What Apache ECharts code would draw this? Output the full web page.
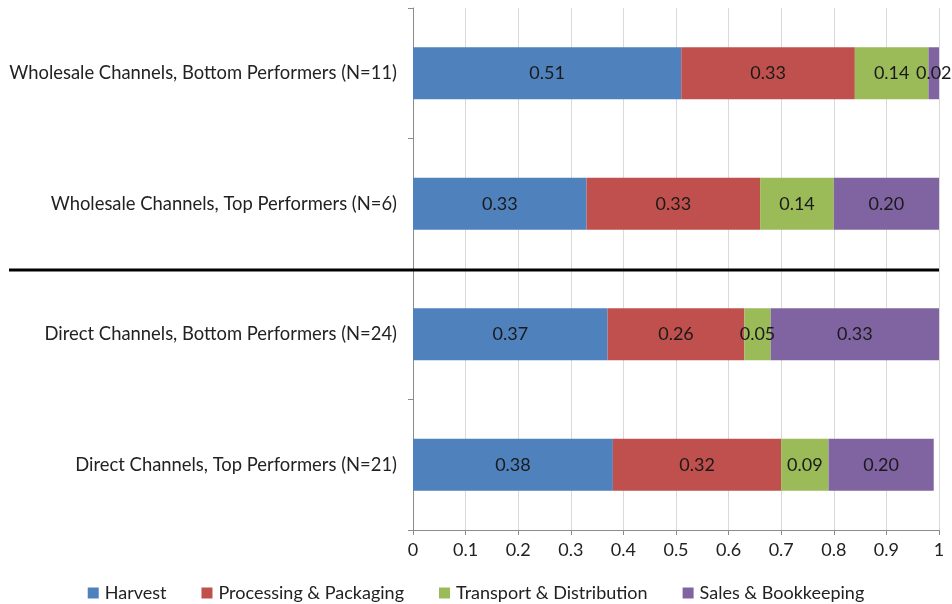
<!DOCTYPE html>
<html>
<head>
<meta charset="utf-8">
<script src="https://cdn.jsdelivr.net/npm/echarts@6/dist/echarts.min.js"></script>
<style>
  html, body { margin: 0; padding: 0; background: #fff; }
  #chart { width: 952px; height: 604px; }
</style>
</head>
<body>
<div id="chart"></div>
<script>
// Categories listed bottom to top (category y-axis grows upward)
const categories = [
  'Direct Channels, Top Performers (N=21)',
  'Direct Channels, Bottom Performers (N=24)',
  'Wholesale Channels, Top Performers (N=6)',
  'Wholesale Channels, Bottom Performers (N=11)'
];
const harvest      = [0.38, 0.37, 0.33, 0.51];
const processing   = [0.32, 0.26, 0.33, 0.33];
const transport    = [0.09, 0.05, 0.14, 0.14];
const sales        = [0.20, 0.33, 0.20, 0.02];
const seriesNames  = ['Harvest', 'Processing & Packaging', 'Transport & Distribution', 'Sales & Bookkeeping'];
const seriesColors = ['#4F81BD', '#C0504D', '#9BBB59', '#8064A2'];
const xTicks = [0, 0.1, 0.2, 0.3, 0.4, 0.5, 0.6, 0.7, 0.8, 0.9, 1];

const FONT = 'Lato';
const chart = echarts.init(document.getElementById('chart'));

const seriesData = [harvest, processing, transport, sales];
const series = seriesData.map((vals, i) => ({
  name: seriesNames[i],
  type: 'bar',
  stack: 'total',
  barWidth: 52,
  itemStyle: { color: seriesColors[i] },
  label: {
    show: true,
    position: 'inside',
    color: '#1a1a1a',
    fontFamily: FONT,
    fontSize: 18,
    formatter: p => p.value.toFixed(2)
  },
  data: vals
}));

chart.setOption({
  animation: false,
  grid: { left: 413, right: 13, top: 8, bottom: 74, containLabel: false },
  legend: {
    top: 579,
    left: 'center',
    itemWidth: 11,
    itemHeight: 11,
    itemGap: 35,
    icon: 'rect',
    textStyle: { fontFamily: FONT, fontSize: 18, color: '#222', padding: [0, 0, 0, 1] },
    data: seriesNames
  },
  xAxis: {
    type: 'value',
    min: 0,
    max: 1,
    interval: 0.1,
    axisLine: { show: true, lineStyle: { color: '#8c8c8c' } },
    axisTick: { show: true, length: 5, lineStyle: { color: '#8c8c8c' } },
    splitLine: { show: true, lineStyle: { color: '#d9d9d9' } },
    axisLabel: {
      margin: 11,
      fontFamily: FONT,
      fontSize: 18,
      color: '#222',
      formatter: v => {
        const t = xTicks.find(x => Math.abs(x - v) < 1e-9);
        return t === undefined ? '' : String(t);
      }
    }
  },
  yAxis: {
    type: 'category',
    data: categories,
    axisLine: { show: true, lineStyle: { color: '#8c8c8c' } },
    axisTick: { show: true, length: 5, lineStyle: { color: '#8c8c8c' } },
    axisLabel: { margin: 16, fontFamily: FONT, fontSize: 18.4, color: '#222' }
  },
  series: series
});

// Heavy separator between wholesale and direct channel groups
function drawSeparator() {
  const yA = chart.convertToPixel({ yAxisIndex: 0 }, categories[1]);
  const yB = chart.convertToPixel({ yAxisIndex: 0 }, categories[2]);
  const y = (yA + yB) / 2 + 1;
  const xEnd = chart.convertToPixel({ xAxisIndex: 0 }, 1);
  chart.setOption({
    graphic: [{
      type: 'line',
      shape: { x1: 9, y1: y, x2: xEnd, y2: y },
      style: { stroke: '#000', lineWidth: 3 },
      z: 100
    }]
  });
}
drawSeparator();
</script>
</body>
</html>
